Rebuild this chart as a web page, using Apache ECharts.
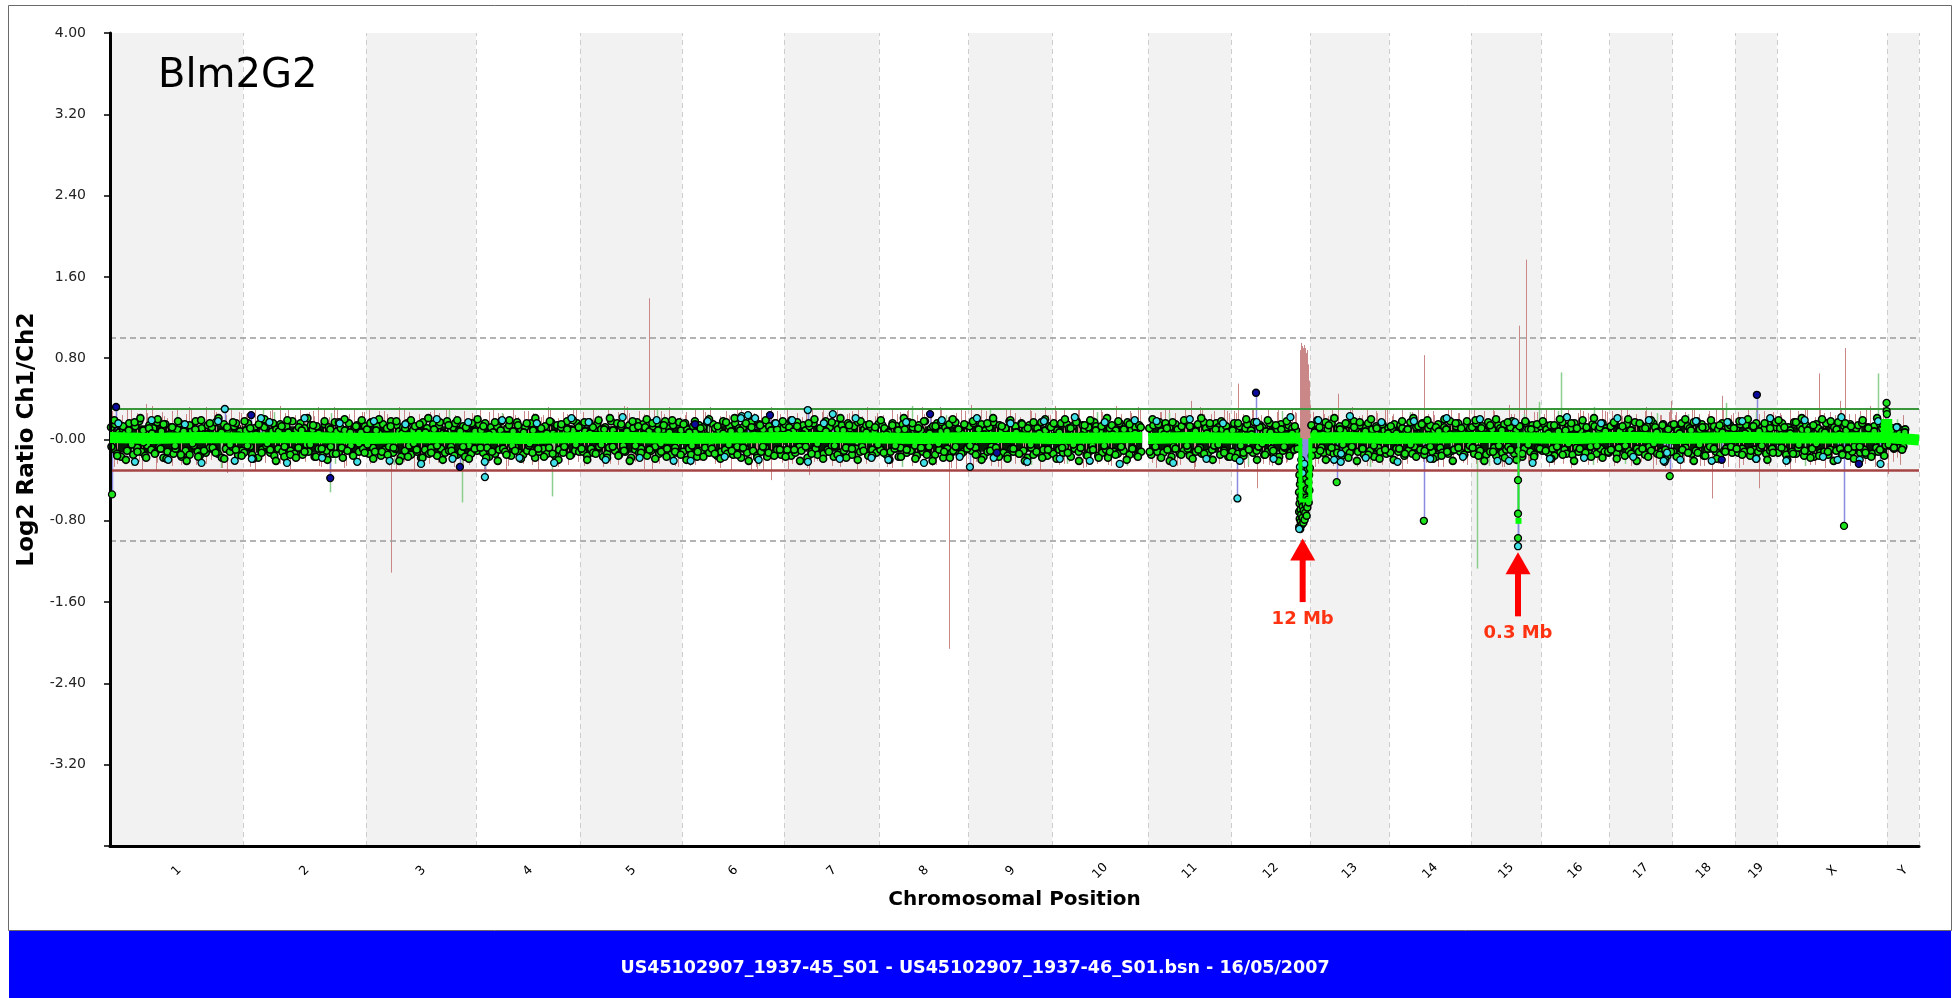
<!DOCTYPE html>
<html><head><meta charset="utf-8">
<script src="https://cdn.jsdelivr.net/npm/echarts@6/dist/echarts.min.js"></script>
<style>html,body{margin:0;padding:0;background:#fff;}#c{width:1959px;height:998px;}</style>
</head><body><div id="c"></div>
<script>
// ---------------- DATA ----------------
const CHROMS = ['1','2','3','4','5','6','7','8','9','10','11','12','13','14','15','16','17','18','19','X','Y'];
const CHR_LEN_MB = [197,182,163,154,151,151,141,132,124,142,123,117,117,121,104,101,93,93,62,163,47];
// part of each chromosome covered by the regular probe cloud
const PROBE_SPAN_MB = [197,182,163,154,151,151,141,132,124,133,123,100,117,121,104,101,93,93,62,163,28];
const Y_MIN = -4, Y_MAX = 4, Y_STEP = 0.8;
const THRESH_UP = 0.3, THRESH_DOWN = -0.3, GUIDE_UP = 1, GUIDE_DOWN = -1;

// dense core of the probe cloud per chromosome (hundredths): low / high edge
const CORE_LO = [-13,-13,-14,-13,-13,-13,-12,-13,-12,-13,-13,-12,-13,-13,-13,-12,-13,-13,-12,-13,-8];
const CORE_HI = [14,13,13,14,13,14,13,13,13,13,14,13,13,14,13,13,13,14,13,13,9];

// log2 ratio of the probe cloud, in hundredths, per chromosome (two passes)
const CLOUD = [
 [12,-9,15,-14,7,-17,10,6,-11,16,-4,-15,13,-8,18,-12,9,-16,-6,14,-10,11,-13,17,-7,8,-18,15,-12,5,12,-14,-9,10,16,-17,7,-11,13,-15,9,-6,18,-12,-16,11,5,-13,14,-8,12,-10,17,-14,6,-18,15,-9,10,-12,-7,13,16,-15,8,-11],
 [-13,9,16,-7,-15,11,6,-18,14,-10,12,-6,17,-13,8,-16,10,-9,15,-12,-17,13,7,-11,18,-14,9,-8,16,-15,11,-5,-12,14,10,-17,13,-9,6,-16,15,-11,12,-7,-14,17,8,-13,11,-18,9,-10,16,-6,-15,12,14,-12,7,-9,13],
 [10,-14,17,-8,-12,13,6,-16,15,-10,11,-7,18,-13,-9,14,8,-17,12,-11,16,-6,-15,9,13,-12,7,-18,17,-10,11,-14,-8,15,10,-16,14,-9,6,-13,18,-11,-7,12,16,-15,9,-12,13,-17,11,-6,-14,15,8],
 [-11,15,9,-13,16,-8,-17,12,7,-14,13,-10,18,-9,-12,11,14,-16,8,-7,17,-13,10,-15,12,-11,-6,16,9,-18,15,-12,11,-9,13,-14,-8,17,6,-16,14,-10,12,-13,-7,18,10,-15,9,-11,16,-12],
 [14,-12,8,-16,17,-9,-13,11,15,-7,10,-17,12,-14,-8,18,9,-11,16,-15,13,-6,-12,7,14,-18,11,-10,17,-13,-9,15,12,-16,8,-11,13,-7,16,-14,-12,10,18,-9,11,-15,14,-8,-13,17,9],
 [-12,16,10,-9,-15,13,7,-17,14,-11,12,-8,17,-13,-6,15,11,-16,9,-12,18,-10,-14,13,8,-15,16,-7,11,-18,12,-9,-13,14,17,-11,6,-16,15,-12,10,-8,-17,13,9,-14,16,-10,12,-15,11],
 [15,-10,12,-16,8,-13,17,-7,-11,14,9,-18,13,-12,16,-9,-15,11,7,-14,18,-10,12,-6,-17,15,10,-13,14,-11,-8,16,11,-15,13,-9,17,-12,-7,10,14,-16,12,-10,8,-13,15],
 [-10,14,11,-15,7,-12,16,-9,13,-17,-8,15,10,-13,17,-11,12,-6,-16,14,9,-12,18,-14,-7,11,13,-15,16,-10,8,-18,12,-9,15,-13,-11,17,10,-14,6,-12,14,-8],
 [13,-11,16,-8,-14,10,15,-17,9,-12,12,-7,17,-15,-10,14,8,-13,11,-16,18,-9,-12,13,7,-14,16,-11,10,-18,14,-8,-15,12,11,-13,17,-10,9,-16,13,-12],
 [-14,12,9,-10,16,-13,-7,15,11,-17,13,-9,18,-12,-8,14,10,-15,12,-11,-6,17,13,-16,8,-13,15,-10,-18,11,14,-12,9,-14,16,-8,-11,13,17,-15,10,-9,12,-16,14,-12],
 [11,-15,14,-9,-12,17,8,-13,16,-10,12,-17,-7,15,10,-14,13,-11,18,-9,-16,12,9,-12,15,-8,-14,17,11,-13,14,-10,-6,16,12,-15,10,-11,13,-17,8],
 [-12,16,10,-14,13,-8,-16,11,15,-10,9,-13,17,-11,-7,14,12,-15,8,-12,16,-9,-14,13,10,-17,15,-11,-8,12,14,-13,11,-10,9,-6],
 [14,-11,9,-15,12,-8,-13,17,10,-12,16,-14,-9,11,13,-16,8,-10,15,-13,-7,18,11,-12,14,-9,-15,12,16,-11,10,-17,13,-8,-12,15,9,-14,11],
 [-13,10,15,-9,-12,14,11,-16,8,-11,17,-14,-7,12,13,-10,16,-15,-9,11,14,-12,9,-17,15,-8,-13,12,10,-14,18,-11,-10,13,16,-12,7,-15,14,-9,11],
 [12,-14,16,-9,-11,13,8,-15,17,-12,10,-8,-16,14,11,-13,15,-10,-7,12,18,-14,9,-11,13,-17,-9,16,10,-12,14,-15,11,-8,13],
 [-11,15,10,-13,14,-9,-16,12,8,-12,17,-10,-14,13,11,-15,16,-8,-12,9,14,-17,12,-11,-7,15,13,-14,10,-9,16,-12,11,-13],
 [13,-10,16,-14,-8,12,10,-16,15,-11,9,-13,17,-9,-12,14,11,-15,13,-7,-11,16,12,-14,8,-12,15,-10,-16,11,14],
 [-12,14,9,-15,16,-10,-8,13,11,-14,17,-11,-13,10,15,-16,12,-9,-7,14,13,-12,10,-15,16,-11,-9,12,14,-13,11],
 [11,-13,15,-9,-12,14,8,-16,13,-10,16,-12,-8,12,10,-14,15,-11,-9,13,12],
 [-13,11,16,-10,-15,12,9,-12,17,-14,-8,13,10,-16,14,-11,12,-9,-17,15,11,-13,8,-12,16,-15,-10,14,12,-11,17,-9,-14,13,9,-16,15,-12,-7,11,14,-13,16,-10,-15,12,10,-14,13,-8,-12,15,11,-16,14],
 [8,-6,11,-9,7,12,-8,9,-7,10]
];
const CLOUD_B = [
 [-7,19,-16,4,13,-20,9,-5,17,-12,21,-3,-18,11,6,-14,20,-9,15,-19,3,12,-6,18,-15,8,-21,14,-4,10,-17,19,-11,5,16,-8,-13,21,7,-19,12,-5,17,-10,4,-16],
 [18,-6,11,-19,5,15,-13,20,-4,-10,16,-21,8,13,-7,19,-15,4,-18,12,9,-12,21,-5,14,-17,6,-9,18,-20,10,3,-14,17,-8,20,-11,7,-16,13,-4,19,-13],
 [-5,16,-19,9,20,-12,4,-15,13,-8,18,-21,6,11,-17,19,-4,-10,15,-18,7,21,-13,10,-6,17,-20,5,14,-11,-16,19,8,-7,12,-19,16,-9],
 [20,-8,13,-18,5,-12,17,-21,9,4,-15,19,-6,-11,14,-19,7,16,-4,-13,21,-9,11,-17,6,18,-14,3,-20,15,-7,10,-16,19,-5,12],
 [-9,17,-20,6,12,-14,19,-5,10,-18,21,-7,4,-16,15,-11,8,-21,18,-6,13,-13,5,20,-10,16,-19,9,-4,14,-17,7,19,-12,3,-15],
 [15,-20,7,-6,18,-12,11,-17,4,20,-9,-14,13,-19,6,17,-5,-11,21,-15,9,-8,16,-21,12,5,-18,14,-7,19,-13,3,-16,10,-10,18],
 [-17,6,19,-10,13,-21,5,-7,16,-14,20,-4,11,-19,8,-12,17,-6,-15,21,9,-18,14,-9,4,-20,18,-11,7,15,-16,12,-5],
 [19,-13,5,-20,14,-6,9,-17,21,-10,4,16,-19,11,-8,18,-15,6,-21,13,-4,17,-12,8,-18,20,-7,10,-14,15,-9],
 [-6,18,-15,10,-20,5,16,-11,21,-8,-17,13,4,-19,19,-9,7,-14,15,-21,11,-5,17,-12,6,-18,20,-10,12],
 [16,-19,7,-8,20,-13,11,-5,17,-21,4,14,-16,19,-10,9,-18,13,-6,21,-12,5,-15,18,-7,10,-20,15,-9,6,-17,12],
 [-12,20,-7,15,-18,5,11,-21,17,-9,4,-15,19,-6,13,-19,8,-10,21,-14,6,16,-20,10,-5,18,-13,7,-17],
 [9,-18,16,-6,-13,20,-10,5,17,-20,12,-4,-15,19,7,-11,14,-21,10,-7,18,-16,6,13,-9],
 [-16,7,19,-11,5,-20,14,-8,21,-13,10,-5,16,-18,4,12,-21,17,-9,8,-15,20,-6,11,-19,15,-10,6],
 [13,-20,6,-9,18,-14,10,-5,21,-17,4,15,-11,19,-7,-19,12,8,-16,20,-12,5,-21,16,-8,11,-15,18,-6],
 [-8,19,-16,11,-21,5,14,-12,20,-6,9,-18,17,-10,4,-20,13,-14,18,-5,10,-17,15,-9],
 [18,-11,6,-19,14,-7,20,-15,9,-4,16,-21,11,-9,19,-13,5,-17,21,-6,12,-18,8,-12],
 [-10,17,-19,8,13,-6,20,-14,5,-21,16,-9,11,-17,19,-4,7,-15,14,-20,10,-12],
 [15,-17,6,-10,20,-13,9,-21,18,-5,12,-16,4,19,-9,-19,14,7,-12,17,-7,11],
 [-9,18,-15,6,20,-11,13,-19,8,-6,16,-20,11,-13,17],
 [19,-8,12,-20,6,-14,17,-5,21,-11,9,-18,14,-4,-16,20,7,-12,18,-21,10,5,-15,16,-9,13,-19,4,-7,19,-13,11,-17,8,21,-10,15,-6],
 [-5,9,-8,12,6,-10,7]
];
// cyan points at the edge of the cloud, hundredths
const CLOUD_EDGE = [
 [16,-22,19,-20,15,-23,18,-21],[-19,17,-23,21,-18,16,-22],[18,-21,15,-24,20,-19,17],[-22,19,-18,16,-23,21],
 [17,-20,22,-18,19,-21],[-21,18,-17,23,-20,16],[19,-22,16,-19,21,-18],[-20,17,-23,19,-17],[21,-18,16,-22,18],
 [-19,22,-21,17,-24,19],[18,-23,20,-19,16],[-21,17,-19,22],[19,-20,23,-18,17],[-22,18,-19,21,-17],[20,-21,17,-23],
 [-19,22,-18,16],[21,-17,19,-22],[-20,18,-21,17],[18,-19,21],[-21,19,-17,22,-20,18],[12]
];
// pink raw-ratio stems, hundredths (two passes)
const PINK_STEMS = [
 [28,-24,22,31,-21,26,-30,24,33,-23,27,21,-26,30,-22,25,29,-25,23,32,-20,27,-28,24,30,-23,26],
 [25,-27,30,22,-23,28,-21,33,26,-29,24,31,-22,27,23,-26,29,-24,32,21,-28,25,30,-22,27],
 [30,-23,24,28,-26,21,32,-22,27,-30,25,23,-24,29,26,-21,31,-27,22,28,-25,24],
 [23,-29,27,31,-22,25,-26,30,22,-24,28,26,-30,24,32,-23,21,27,-25,29,-22],
 [27,-22,31,24,-27,29,22,-25,33,26,-21,28,-29,23,30,-24,25,32,-26,22],
 [24,-26,29,-21,27,32,-24,23,28,-30,25,31,-22,26,-27,30,22,-25,28,-23],
 [29,-24,26,22,-28,31,-21,27,24,-26,30,-23,25,28,-29,23,32,-22,26],
 [22,-27,30,25,-23,28,-26,24,32,-21,27,-25,29,23,-28,26,31,-24],
 [31,-22,25,28,-26,23,-29,27,30,-24,22,-27,29,26,-21,32,24],
 [26,-25,30,-22,24,29,-28,23,31,-24,27,22,-26,33,25,-23,28,-21,30],
 [24,-28,27,31,-23,26,-25,29,22,-27,32,25,-22,28,-24,30,26],
 [28,-23,25,-27,31,22,-24,29,-26,27,24,-22,30,26],
 [27,-24,30,23,-26,28,-22,25,32,-27,24,29,-23,26,-25,31],
 [23,-26,29,-24,27,31,-22,25,28,-27,22,30,-25,26,-23,29],
 [30,-22,26,-25,28,23,-27,31,25,-24,29,-26,27,32],
 [25,-27,29,22,-24,31,-23,26,28,-25,24,-22,30,27],
 [28,-24,23,30,-26,25,-22,32,27,-25,24,-28,29],
 [24,-29,27,-23,31,25,-26,28,22,-24,30,-27,26],
 [27,-25,30,-23,25,28,-26,24],
 [26,-27,30,-23,24,29,-25,22,31,-28,27,24,-22,30,-26,25,28,-24,33,-27,23,29],
 [18,-22,16,-25,14]
];
const PINK_STEMS_B = [
 [-27,24,30,-22,26,-31,23,28,-25,32,21,-24,29,-28,25,27],[26,-30,23,29,-24,31,-21,25,28,-27,22,30,-26,24,27],
 [-24,28,25,-29,31,22,-26,27,-23,30,24,-28,26],[29,-23,26,-31,24,28,-25,22,30,-27,25,31],
 [-26,30,23,-24,27,32,-22,25,-29,28,24,-27],[27,-25,31,22,-28,24,29,-23,26,-30,32,25],
 [-29,25,28,-22,30,24,-27,26,31,-24,23],[24,-28,27,30,-23,25,-26,32,22,-29,28],[-25,29,23,-27,31,26,-22,28,-30,24],
 [28,-24,25,31,-27,22,29,-25,30,-23,26,32],[-23,27,30,-26,24,-29,31,25,-22,28],[26,-28,30,24,-25,29,-23,27],
 [-27,25,29,-24,31,23,-26,28,30],[25,-29,27,31,-23,24,-27,30,26,-25],[-24,28,31,-27,25,30,-22,27],
 [29,-25,24,-28,31,26,-23,28],[-26,30,25,-22,28,-29,24,27],[27,-23,30,-26,25,29,-28,24],[-28,26,31,-24,27],
 [24,-29,28,31,-25,26,-23,30,25,-27,29,-24,32],[20,-18,24]
];
// light green stems, hundredths
const GREEN_STEMS = [[-26,24,-28],[27,-24],[-25,28],[26,-27],[-24,29],[25,-26],[28,-23],[-27,24],[29,-25],[-24,27,-26],
 [26,-23],[-25,28],[24,-27],[27,-24],[-26,25],[28,-25],[-24,26],[25,-23],[27],[-26,24],[20]];

// isolated probes [chromosome, position Mb, log2 ratio]
const PINK_SPIKES = [['1',1.5,.55],['1',53,.35],['1',173,-.33],['2',111,.32],['3',36.5,-1.31],['5',102,1.39],
 ['6',102,-.30],['6',111,-.29],['6',131.5,-.40],['7',36.8,-.35],['8',103,-2.06],['9',3.6,.34],['10',4,.33],
 ['11',63,.38],['12',10,.55],['12',38,-.48],['13',40.5,.45],['14',51,.83],['15',56,.34],['15',71,1.12],['15',81,1.77],
 ['17',91,.38],['18',58,-.58],['18',73,.43],['19',35,-.48],['X',62,.65],['X',93,.38],['X',100.5,.90],['Y',1,-.34]];
const GREEN_SPIKES = [['2',29.5,.31],['2',129,-.52],['2',130,.26],['3',142,-.62],['4',13,-.40],['4',112,-.56],
 ['8',48,.33],['15',8,-1.27],['15',100,.37],['16',29,.66],['16',78,.32],['18',79,.36],['X',149,.65]];
const DARK_PTS = [['1',9,.32],['2',12,.24],['2',129,-.38],['3',139,-.27],['6',19,.15],['6',130,.24],['8',75,.25],
 ['9',42,-.13],['12',36.5,.46],['18',73,-.20],['19',32,.44],['X',121,-.24]];
const GREEN_OUT = [['1',3,-.54],['13',39,-.42],['14',51,-.80],['17',89,-.36],['X',99,-.85],['X',162,.36],['X',162,.28],
 ['X',162.4,.25],['15',69.4,-.40],['15',69.4,-.73],['15',69.4,-.97]];
const CYAN_OUT = [['1',170,.30],['2',26.5,.21],['4',13,-.37],['6',87,.21],['6',97.5,.24],['6',108,.21],['7',35,.29],
 ['7',72,.25],['9',2,-.27],['12',9,-.58],['13',45,-.22],['13',45.5,-.14],['15',56,-.21],['17',80,-.21],['17',85,-.13],
 ['X',89.5,-.20],['X',153,-.24],['15',69.4,-1.05]];
// chromosome 12 distal deletion (~12 Mb): [position Mb, log2 ratio]
const DEL12 = [[100.2,-.52],[100.4,-.71],[100.6,-.86],[100.8,-.35],[101.0,-.63],[101.3,-.78],[101.6,-.44],[101.9,-.88],
 [102.2,-.58],[102.5,-.69],[102.8,-.81],[103.1,-.40],[103.4,-.74],[103.8,-.55],[104.2,-.84],[104.6,-.62],[105.0,-.47],
 [105.4,-.77],[105.8,-.66],[106.2,-.53],[106.6,-.82],[107.0,-.70],[107.5,-.45],[108.0,-.60],[108.5,-.79],[109.0,-.51],
 [109.5,-.72],[110.0,-.64],[110.5,-.38],[111.0,-.57],[111.5,-.75],[112.0,-.49],[112.5,-.67],[113.0,-.30],[113.5,-.59],
 [114.0,-.42],[114.5,-.62],[115.0,-.35],[115.5,-.50],[116.2,-.28]];
const DEL12_CYAN = [[100.5,-.88],[101.5,-.27],[103.5,-.20],[105.5,-.33],[108.2,-.24]];
const DEL12_PINK = [[101.5,.62],[102.2,.88],[102.9,.95],[103.6,.80],[104.3,.92],[105.0,.85],[105.7,.90],[106.4,.78],
 [107.1,.93],[107.8,.86],[108.5,.82],[109.2,.90],[109.9,.75],[110.6,.85],[111.3,.88],[112,.70],[112.7,.80],[113.4,.66],
 [114.1,.74],[114.8,.58],[115.5,.45],[116.2,.35]];
// moving-average track per chromosome: [position Mb, log2 ratio]
const TRACK = [
 [[0,.02],[60,.01],[130,.02],[197,.015]],[[0,.015],[90,.02],[182,.01]],[[0,.01],[80,.02],[163,.015]],
 [[0,.02],[77,.01],[154,.02]],[[0,.015],[75,.02],[151,.01]],[[0,.02],[75,.015],[151,.02]],[[0,.01],[70,.02],[141,.015]],
 [[0,.02],[66,.01],[132,.02]],[[0,.015],[62,.02],[124,.01]],[[0,.02],[66,.015],[133,.02]],[[0,.01],[60,.02],[123,.015]],
 [[0,.02],[50,.01],[102,.015]],[[0,.015],[58,.02],[117,.01]],[[0,.02],[60,.015],[121,.02]],
 [[0,.01],[52,.02],[104,.015]],[[0,.02],[50,.01],[101,.02]],[[0,.015],[46,.02],[93,.01]],[[0,.02],[46,.015],[93,.02]],
 [[0,.01],[31,.02],[62,.015]],[[0,.02],[80,.015],[161.5,.02],[162.2,.2],[162.9,.02],[163,.015]],[[0,.01],[47,-.005]]
];
const TRACK_DEL12 = [[102,.015],[102.6,-.6],[116.8,-.6],[117,.015]];
const TRACK_DIPS = [['15',69.4,-.80]];
const ARROWS = [['12',105.6,-0.975,-1.60],['15',69.4,-1.11,-1.74]];
const ARROW_LABELS = ['12 Mb','0.3 Mb'];
const TITLE = 'Blm2G2';
const FOOTER = 'US45102907_1937-45_S01 - US45102907_1937-46_S01.bsn - 16/05/2007';

// ---------------- BUILD ----------------
const chrStart = []; { let s = 0; CHR_LEN_MB.forEach(L => { chrStart.push(s); s += L; }); }
const GENOME_END = chrStart[chrStart.length - 1] + CHR_LEN_MB[CHR_LEN_MB.length - 1];
const CHR_MID = CHR_LEN_MB.map((L, i) => chrStart[i] + L / 2);
const ci = lab => CHROMS.indexOf(lab);
const gx = (lab, pos) => chrStart[ci(lab)] + pos;
function spread(perChr) {
  const out = [];
  perChr.forEach((vals, c) => { const n = vals.length, span = PROBE_SPAN_MB[c];
    vals.forEach((v, i) => out.push([chrStart[c] + (i + 0.5) * span / n, v / 100])); });
  return out;
}
const pts = list => list.map(([c, p, v]) => [gx(c, p), v]);
const rel = (lab, list) => list.map(([p, v]) => [gx(lab, p), v]);

const coreAreas = CHR_LEN_MB.map((L, c) => [{ coord: [chrStart[c], CORE_HI[c] / 100] }, { coord: [chrStart[c] + PROBE_SPAN_MB[c], CORE_LO[c] / 100] }]);
const cloudData = spread(CLOUD).concat(spread(CLOUD_B));
const edgeData = spread(CLOUD_EDGE);
const pinkData = spread(PINK_STEMS).concat(spread(PINK_STEMS_B), pts(PINK_SPIKES), rel('12', DEL12_PINK));
const greenStemData = spread(GREEN_STEMS).concat(pts(GREEN_SPIKES));
const del12 = rel('12', DEL12), del12c = rel('12', DEL12_CYAN);
const blueStemData = pts(DARK_PTS).concat(pts(GREEN_OUT), pts(CYAN_OUT), del12, del12c);
const trackData = [];
TRACK.forEach((seg, c) => {
  seg.forEach(([p, v]) => trackData.push([chrStart[c] + p, v]));
  const last = seg[seg.length - 1][0];
  if (last < CHR_LEN_MB[c] - 3) trackData.push([chrStart[c] + last + 0.5, '-']);
});

const FONT = '"DejaVu Sans", Verdana, sans-serif';
function stemSeries(name, data, color, width, z) {
  return { type: 'custom', name, z, silent: true, data, encode: { x: 0, y: 1 },
    renderItem: (p, api) => {
      const a = api.coord([api.value(0), 0]), b = api.coord([api.value(0), api.value(1)]);
      const x = Math.round(a[0]) + 0.5;
      return { type: 'line', shape: { x1: x, y1: a[1], x2: x, y2: b[1] }, style: { stroke: color, lineWidth: width } };
    } };
}
function dotSeries(name, data, color, size, z, bw) {
  return { type: 'scatter', name, z, silent: true, data, symbol: 'circle', symbolSize: size,
    itemStyle: { color, borderColor: '#000', borderWidth: bw || 1.3, opacity: 1 } };
}

const bands = [];
CHR_LEN_MB.forEach((L, c) => { if (c % 2 === 0) bands.push([{ xAxis: chrStart[c] }, { xAxis: chrStart[c] + L }]); });
const boundaryLines = chrStart.slice(1).concat([GENOME_END]).map(x => ({ xAxis: x }));

const chart = echarts.init(document.getElementById('c'), null, { renderer: 'canvas' });
chart.setOption({
  animation: false,
  backgroundColor: '#fff',
  textStyle: { fontFamily: FONT },
  title: { text: TITLE, left: 153, top: 52, textStyle: { fontSize: 40, fontWeight: 'normal', color: '#000', fontFamily: FONT } },
  graphic: [
    { type: 'rect', z: 100, shape: { x: 8.5, y: 5.5, width: 1943, height: 925 }, style: { fill: null, stroke: '#6a6a6a', lineWidth: 1 } },
    { type: 'rect', z: 100, shape: { x: 9, y: 931, width: 1942, height: 67 }, style: { fill: '#0000ff' } },
    { type: 'text', z: 101, x: 975, y: 968, style: { text: FOOTER, fill: '#fff', font: 'bold 17.5px ' + FONT, align: 'center', verticalAlign: 'middle' } }
  ],
  grid: { left: 110, right: 40, top: 33, bottom: 152, containLabel: false },
  xAxis: {
    type: 'value', min: 0, max: GENOME_END, z: 10,
    name: 'Chromosomal Position', nameLocation: 'middle', nameGap: 44,
    nameTextStyle: { fontSize: 20, fontWeight: 'bold', color: '#000', fontFamily: FONT },
    axisLine: { show: true, onZero: false, lineStyle: { color: '#000', width: 3 } },
    axisTick: { show: false },
    splitLine: { show: false },
    axisLabel: { customValues: CHR_MID, rotate: 45, align: 'center', verticalAlign: 'middle', margin: 25, fontSize: 12.5, color: '#000', fontFamily: FONT,
      formatter: v => { const i = CHR_MID.findIndex(m => Math.abs(m - v) < 1e-6); return i >= 0 ? CHROMS[i] : ''; } }
  },
  yAxis: {
    type: 'value', min: Y_MIN, max: Y_MAX, interval: Y_STEP, z: 10,
    name: 'Log2 Ratio Ch1/Ch2', nameLocation: 'middle', nameGap: 60,
    nameTextStyle: { fontSize: 23, fontWeight: 'bold', color: '#000', fontFamily: FONT },
    axisLine: { show: true, onZero: false, lineStyle: { color: '#000', width: 3 } },
    axisTick: { show: true, length: 6, lineStyle: { color: '#000', width: 1.5 } },
    splitLine: { show: false },
    axisLabel: { margin: 24, fontSize: 14, color: '#222', fontFamily: FONT,
      formatter: v => (v <= Y_MIN + 1e-9) ? '' : (Math.abs(v) < 1e-9 ? '-0.00' : v.toFixed(2)) }
  },
  series: [
    { type: 'line', name: 'bands', data: [], z: 0, silent: true,
      markArea: { silent: true, itemStyle: { color: '#f2f2f2' }, data: bands },
      markLine: { silent: true, symbol: ['none', 'none'], label: { show: false },
        lineStyle: { color: '#cdcdcd', type: [5, 4], width: 1 },
        data: boundaryLines.concat([
          { yAxis: GUIDE_UP, lineStyle: { color: '#9a9a9a', type: [6, 4], width: 1.6 } },
          { yAxis: GUIDE_DOWN, lineStyle: { color: '#9a9a9a', type: [6, 4], width: 1.6 } }]) } },
    stemSeries('pink', pinkData, '#c98787', 1, 1),
    { type: 'line', name: 'thresholds', data: [], z: 2, silent: true,
      markLine: { silent: true, symbol: ['none', 'none'], label: { show: false },
        data: [{ yAxis: THRESH_UP, lineStyle: { color: '#3a963a', type: 'solid', width: 2 } },
               { yAxis: THRESH_DOWN, lineStyle: { color: '#a64444', type: 'solid', width: 2.5 } }] } },
    stemSeries('greenStems', greenStemData, '#8ccf8c', 1.5, 2),
    stemSeries('blueStems', blueStemData, '#8a8ae0', 1.5, 3),
    { type: 'line', name: 'core', data: [], z: 4, silent: true,
      markArea: { silent: true, itemStyle: { color: '#061d06', opacity: 1 }, data: coreAreas } },
    dotSeries('cloud', cloudData, '#1ee41e', 7, 5, 1.6),
    dotSeries('edge', edgeData, '#3fe0e6', 7, 5, 1.3),
    dotSeries('del12', del12, '#1ee41e', 7, 5, 1.5),
    dotSeries('del12c', del12c, '#3fe0e6', 7, 5, 1.3),
    { type: 'line', name: 'track', data: trackData, z: 20, zlevel: 1, silent: true, symbol: 'none', connectNulls: false,
      lineStyle: { color: '#00ff00', width: 11 } },
    { type: 'line', name: 'trackDel12', data: rel('12', TRACK_DEL12), z: 20, zlevel: 1, silent: true, symbol: 'none',
      lineStyle: { color: '#00ff00', width: 4 } },
    { type: 'custom', name: 'trackDips', z: 21, zlevel: 1, silent: true, data: pts(TRACK_DIPS), encode: { x: 0, y: 1 },
      renderItem: (p, api) => {
        const a = api.coord([api.value(0), 0]), b = api.coord([api.value(0), api.value(1)]);
        const x = Math.round(a[0]) + 0.5;
        return { type: 'group', children: [
          { type: 'line', shape: { x1: x, y1: a[1], x2: x, y2: b[1] }, style: { stroke: '#22ee22', lineWidth: 2 } },
          { type: 'rect', shape: { x: x - 3, y: b[1] - 3, width: 6, height: 6 }, style: { fill: '#00ff00' } }] };
      } },
    Object.assign(dotSeries('dark', pts(DARK_PTS), '#0a0a9c', 7, 22), { zlevel: 1 }),
    Object.assign(dotSeries('greenOut', pts(GREEN_OUT), '#1ee41e', 7, 22), { zlevel: 1 }),
    Object.assign(dotSeries('cyanOut', pts(CYAN_OUT), '#3fe0e6', 7, 22), { zlevel: 1 }),
    { type: 'custom', name: 'arrows', z: 23, zlevel: 1, silent: true, encode: { x: 0, y: 1 },
      data: ARROWS.map(([c, p, tip, tail]) => [gx(c, p), tip, tail]),
      renderItem: (params, api) => {
        const x = api.value(0);
        const t = api.coord([x, api.value(1)]), b = api.coord([x, api.value(2)]);
        const hw = 12.5, hh = 22, sw = 6;
        return { type: 'group', children: [
          { type: 'polygon', shape: { points: [[t[0], t[1]], [t[0] - hw, t[1] + hh], [t[0] + hw, t[1] + hh]] }, style: { fill: '#ff0000' } },
          { type: 'rect', shape: { x: t[0] - sw / 2, y: t[1] + hh - 1, width: sw, height: b[1] - t[1] - hh + 1 }, style: { fill: '#ff0000' } },
          { type: 'text', x: t[0], y: b[1] + 8, style: { text: ARROW_LABELS[params.dataIndex], fill: '#ff3311',
            font: 'bold 18px ' + FONT, align: 'center', verticalAlign: 'top' } }] };
      } }
  ]
});
</script></body></html>
